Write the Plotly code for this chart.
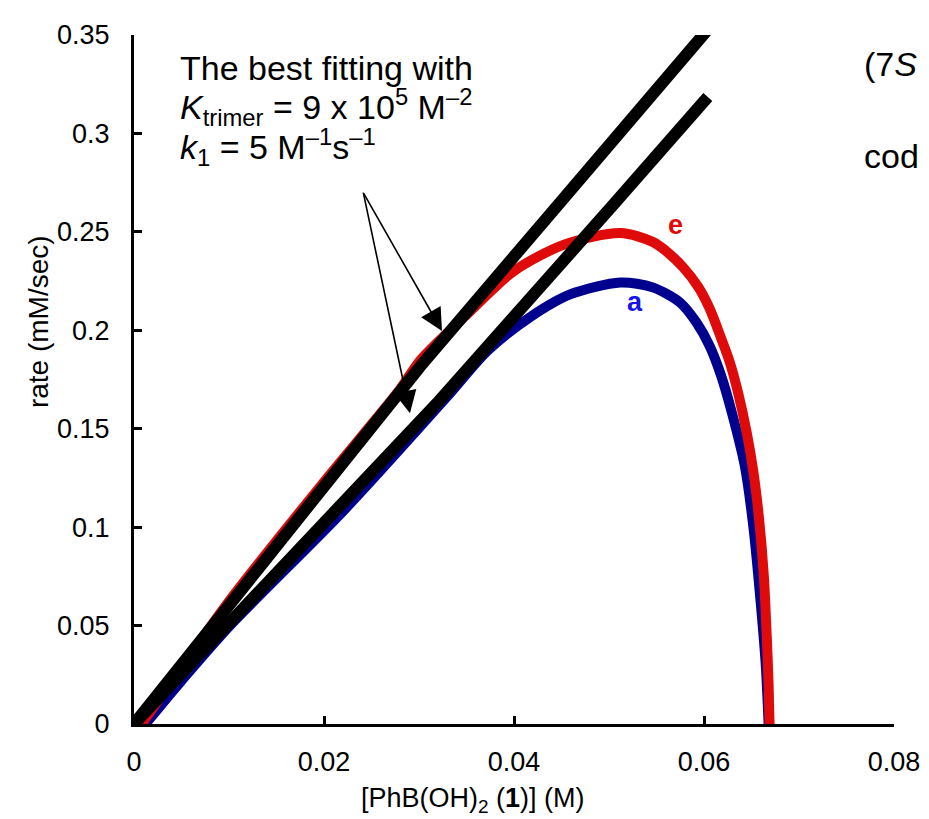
import plotly.graph_objects as go

# ---- data ----
curve_e_x = [0.0008, 0.003, 0.0101, 0.020, 0.028, 0.0301, 0.0354, 0.0399, 0.0452, 0.0512,
             0.0546, 0.0562, 0.0578, 0.0594, 0.0606, 0.0618, 0.0627, 0.0636, 0.0645, 0.0652,
             0.0658, 0.0663, 0.0666, 0.0668, 0.0669]
curve_e_y = [0.0, 0.015, 0.063, 0.123, 0.170, 0.1846, 0.2097, 0.2298, 0.2434, 0.2494,
             0.2449, 0.2395, 0.2320, 0.2220, 0.2110, 0.1960, 0.1840, 0.1680, 0.1480, 0.1280,
             0.1040, 0.0750, 0.0450, 0.0200, 0.0]

curve_a_x = [0.0012, 0.005, 0.0101, 0.0221, 0.0329, 0.0372, 0.0417, 0.0459, 0.0512, 0.0546,
             0.0575, 0.0592, 0.0606, 0.0618, 0.0630, 0.0643, 0.0652, 0.0660, 0.0665, 0.0668]
curve_a_y = [0.0, 0.022, 0.050, 0.1086, 0.166, 0.1896, 0.2067, 0.2182, 0.2243, 0.2218,
             0.2140, 0.2040, 0.1920, 0.1770, 0.1570, 0.1310, 0.1000, 0.0600, 0.0300, 0.0]

fit_upper_x = [0.0, 0.0301, 0.0446, 0.0600, 0.0615]
fit_upper_y = [0.0, 0.1815, 0.2635, 0.350, 0.359]

fit_lower_x = [0.0, 0.0319, 0.0504, 0.0604]
fit_lower_y = [0.0, 0.163, 0.2635, 0.3185]

x_ticks = [0, 0.02, 0.04, 0.06, 0.08]
y_ticks = [0, 0.05, 0.1, 0.15, 0.2, 0.25, 0.3, 0.35]

FONT = "Liberation Sans, Arial, sans-serif"
RED = "#DF0A0A"
NAVY = "#00008F"

# page offset (body margin) compensation
OFF = 8
L, T, PW, PH = 134 - OFF, 28 - OFF, 760, 696


def px(xp):
    return (xp - 134) / PW


def py(yp):
    return 1 - (yp - 28) / PH


fig = go.Figure()
fig.add_trace(go.Scatter(x=curve_a_x, y=curve_a_y, mode="lines",
                         line=dict(color=NAVY, width=10, shape="spline", smoothing=0.8),
                         showlegend=False))
fig.add_trace(go.Scatter(x=curve_e_x, y=curve_e_y, mode="lines",
                         line=dict(color=RED, width=10, shape="spline", smoothing=0.8),
                         showlegend=False))
fig.add_trace(go.Scatter(x=fit_upper_x, y=fit_upper_y, mode="lines",
                         line=dict(color="black", width=12), showlegend=False))
fig.add_trace(go.Scatter(x=fit_lower_x, y=fit_lower_y, mode="lines",
                         line=dict(color="black", width=12), showlegend=False))

axis_common = dict(showline=True, linecolor="black", linewidth=3, mirror=False,
                   ticks="inside", ticklen=8, tickwidth=3, tickcolor="black",
                   showgrid=False, zeroline=False,
                   tickfont=dict(family=FONT, size=27, color="black"))

fig.update_xaxes(range=[0, 0.08], tickvals=x_ticks, ticktext=[str(v) for v in x_ticks],
                 ticklabelstandoff=12, **axis_common)
fig.update_yaxes(range=[0, 0.35], tickvals=y_ticks, ticktext=[str(v) for v in y_ticks],
                 ticklabelstandoff=16, **axis_common)

ann = []
# fitting text block
ann.append(dict(xref="paper", yref="paper", x=px(178), y=py(61),
                xanchor="left", yanchor="middle", showarrow=False,
                text="The best fitting with", font=dict(family=FONT, size=34, color="black")))
ann.append(dict(xref="paper", yref="paper", x=px(178), y=py(101),
                xanchor="left", yanchor="middle", showarrow=False,
                text="<i>K</i><sub>trimer</sub> = 9 x 10<sup>5</sup> M<sup>\u20132</sup>",
                font=dict(family=FONT, size=34, color="black")))
ann.append(dict(xref="paper", yref="paper", x=px(178), y=py(141),
                xanchor="left", yanchor="middle", showarrow=False,
                text="<i>k</i><sub>1</sub> = 5 M<sup>\u20131</sup>s<sup>\u20131</sup>",
                font=dict(family=FONT, size=34, color="black")))
# arrows
ann.append(dict(x=0.03242, y=0.1996, xref="x", yref="y", ax=-79, ay=-139,
                showarrow=True, arrowhead=2, arrowsize=2.8, arrowwidth=1.6,
                arrowcolor="black", text=""))
ann.append(dict(x=0.02905, y=0.1579, xref="x", yref="y", ax=-47, ay=-222,
                showarrow=True, arrowhead=2, arrowsize=2.8, arrowwidth=1.6,
                arrowcolor="black", text=""))
# curve labels
ann.append(dict(x=(675 - 134) / 9500, y=(724 - 220) / 1988.6, xref="x", yref="y",
                showarrow=False, text="<b>e</b>", font=dict(family=FONT, size=27, color=RED)))
ann.append(dict(x=(635 - 134) / 9500, y=(724 - 298) / 1988.6, xref="x", yref="y",
                showarrow=False, text="<b>a</b>", font=dict(family=FONT, size=27, color="#1414E6")))
# axis titles
ann.append(dict(xref="paper", yref="paper", x=px(473), y=py(801),
                xanchor="center", yanchor="middle", showarrow=False,
                text="[PhB(OH)<sub>2</sub> (<b>1</b>)] (M)",
                font=dict(family=FONT, size=27, color="black")))
ann.append(dict(xref="paper", yref="paper", x=px(38), y=py(318),
                xanchor="center", yanchor="middle", showarrow=False, textangle=-90,
                text="rate (mM/sec)", font=dict(family=FONT, size=28, color="black")))
# cropped text at right edge
ann.append(dict(xref="paper", yref="paper", x=px(862), y=py(57),
                xanchor="left", yanchor="middle", showarrow=False,
                text="(7<i>S</i>", font=dict(family=FONT, size=34, color="black")))
ann.append(dict(xref="paper", yref="paper", x=px(862), y=py(150),
                xanchor="left", yanchor="middle", showarrow=False,
                text="cod", font=dict(family=FONT, size=34, color="black")))

fig.update_layout(width=929, height=819,
                  margin=dict(l=L, r=929 - L - PW, t=T, b=819 - T - PH),
                  paper_bgcolor="white", plot_bgcolor="white",
                  annotations=ann, showlegend=False)

fig.write_html("out.html")
